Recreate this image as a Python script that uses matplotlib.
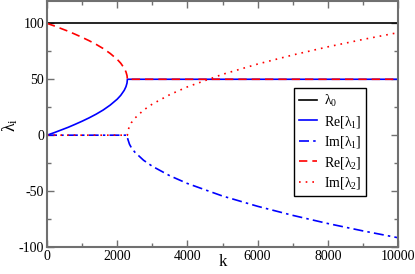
import matplotlib
matplotlib.use("Agg")
from matplotlib import pyplot as plt
from matplotlib.ticker import MultipleLocator

plt.rcParams['font.family'] = ['Liberation Serif', 'DejaVu Serif']
plt.rcParams['mathtext.fontset'] = 'custom'
plt.rcParams['mathtext.rm'] = 'Liberation Serif'
plt.rcParams['mathtext.it'] = 'Liberation Serif'
plt.rcParams['axes.unicode_minus'] = False

# lambda_0 (constant)
k0 = [0, 10000]
lam0 = [100, 100]

k_lo = [0, 100, 200, 400, 600, 800, 1000, 1200, 1400, 1600, 1800, 2000, 2100, 2200, 2250, 2280, 2290]
re1_lo = [0, 1.1, 2.2, 4.6, 7.0, 9.7, 12.5, 15.5, 18.8, 22.5, 26.9, 32.2, 35.6, 40.1, 43.4, 46.7, 50]
re2_lo = [100, 98.9, 97.8, 95.4, 93.0, 90.3, 87.5, 84.5, 81.2, 77.5, 73.1, 67.8, 64.4, 59.9, 56.6, 53.3, 50]

# above the branch point both real parts sit at 50
k_re_hi = [2290, 10000]
re_hi = [50, 50]

# imaginary parts
k_im = [0, 2290, 2300, 2350, 2400, 2500, 2750, 3000, 3500, 4000, 5000, 6000, 7000, 8000, 9000, 10000]
im2 = [0, 0, 3.3, 8.1, 11.0, 15.1, 22.4, 27.8, 36.3, 43.2, 54.4, 63.6, 71.7, 79.0, 85.6, 91.7]
im1 = [-v for v in im2]

fig = plt.figure(figsize=(4.15, 2.74), dpi=100)
ax = fig.add_axes([47 / 415, 27 / 274, 351 / 415, 246 / 274])

lw = 1.2
ax.plot(k0, lam0, color='black', lw=lw, label=r'$\lambda_0$')
ax.plot(k_lo + k_re_hi[1:], re1_lo + re_hi[1:], color='blue', lw=lw, label=r'Re[$\lambda_1$]')
ax.plot(k_im, im1, color='blue', lw=lw, dashes=(6, 2.5, 1.5, 2.5), label=r'Im[$\lambda_1$]')
ax.plot(k_lo + k_re_hi[1:], re2_lo + re_hi[1:], color='red', lw=lw, dashes=(5, 3), label=r'Re[$\lambda_2$]')
ax.plot(k_im, im2, color='red', lw=lw, dashes=(1, 3), label=r'Im[$\lambda_2$]')

ax.set_xlim(0, 10000)
ax.set_ylim(-100, 120)
ax.set_yticks([-100, -50, 0, 50, 100])
ax.xaxis.set_major_locator(MultipleLocator(2000))
ax.xaxis.set_minor_locator(MultipleLocator(1000))
ax.yaxis.set_minor_locator(MultipleLocator(25))

spine_col = '#707070'
for s in ax.spines.values():
    s.set_color(spine_col)
    s.set_linewidth(1.5)
ax.tick_params(which='both', direction='in', top=True, right=True, color=spine_col,
               labelsize=10, pad=2, width=1)
ax.tick_params(which='major', length=5)
ax.tick_params(which='minor', length=3)

ax.set_xlabel('k', fontsize=12, va='center')
ax.xaxis.set_label_coords(0.5, -0.062)
ax.set_ylabel(r'$\lambda_\mathrm{i}$', fontsize=13, va='center')
ax.yaxis.set_label_coords(-0.105, 0.496)

leg = ax.legend(loc='upper left', bbox_to_anchor=(0.703, 0.645), fontsize=10,
                frameon=True, fancybox=False, edgecolor='black', framealpha=1,
                handlelength=1.3, handletextpad=0.5, borderpad=0.35, labelspacing=0.32,
                borderaxespad=0)
leg.get_frame().set_linewidth(1.0)

fig.savefig('out.png', dpi=100)
